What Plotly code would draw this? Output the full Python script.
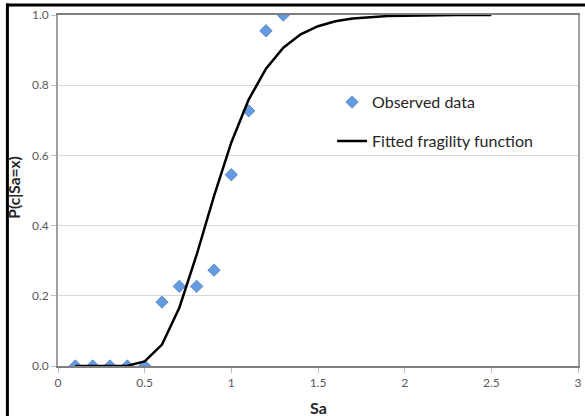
import plotly.graph_objects as go

# Observed data
obs_sa = [0.1, 0.2, 0.3, 0.4, 0.5, 0.6, 0.7, 0.8, 0.9, 1.0, 1.1, 1.2, 1.3]
obs_p = [0.0, 0.0, 0.0, 0.0, 0.0, 0.182, 0.227, 0.227, 0.273, 0.545, 0.727, 0.955, 1.0]

# Fitted fragility function
fit_sa = [0.1, 0.2, 0.3, 0.4, 0.5, 0.6, 0.7, 0.8, 0.9, 1.0, 1.1, 1.2, 1.3,
          1.4, 1.5, 1.6, 1.7, 1.8, 1.9, 2.0, 2.1, 2.2, 2.3, 2.4, 2.5]
fit_p = [0.0, 0.0, 0.0, 0.001, 0.013, 0.061, 0.166, 0.317, 0.484, 0.637, 0.759,
         0.847, 0.907, 0.945, 0.968, 0.982, 0.990, 0.994, 0.997, 0.998, 0.999,
         0.9995, 0.9997, 0.9998, 0.9999]

x_ticks = [0, 0.5, 1, 1.5, 2, 2.5, 3]
x_tick_labels = ["0", "0.5", "1", "1.5", "2", "2.5", "3"]
y_ticks = [0.0, 0.2, 0.4, 0.6, 0.8, 1.0]
y_tick_labels = ["0.0", "0.2", "0.4", "0.6", "0.8", "1.0"]

FONT = "Lato"

fig = go.Figure()
fig.add_trace(go.Scatter(
    x=obs_sa, y=obs_p, mode="markers", name="Observed data",
    legendgroup="a",
    marker=dict(symbol="diamond", size=9.5, color="#639ae0",
                line=dict(color="#4a7ec4", width=0.8)),
))
fig.add_trace(go.Scatter(
    x=fit_sa, y=fit_p, mode="lines", name="Fitted fragility function",
    legendgroup="b",
    line=dict(color="black", width=2.5),
))

fig.update_layout(
    width=585, height=416,
    margin=dict(l=58, r=3, t=15, b=50),
    paper_bgcolor="white", plot_bgcolor="white",
    font=dict(family=FONT, color="#595959", size=12),
    showlegend=True,
    legend=dict(x=0.527, y=0.80, xanchor="left", yanchor="top",
                bgcolor="rgba(0,0,0,0)", tracegroupgap=15,
                traceorder="grouped",
                font=dict(family=FONT, size=16, color="#262626")),
    xaxis=dict(range=[0, 3], tickvals=x_ticks, ticktext=x_tick_labels,
               showgrid=False, zeroline=False,
               showline=True, linecolor="#808080", linewidth=1.5, mirror=True,
               ticks="outside", ticklen=5, tickcolor="#bfbfbf",
               tickfont=dict(size=12, color="#595959")),
    yaxis=dict(range=[0, 1], tickvals=y_ticks, ticktext=y_tick_labels,
               showgrid=True, gridcolor="#d9d9d9", gridwidth=1.2, zeroline=False,
               showline=True, linecolor="#a0a0a0", linewidth=1.5, mirror=True,
               ticks="outside", ticklen=5, tickcolor="#bfbfbf",
               tickfont=dict(size=12, color="#595959")),
    annotations=[
        dict(text="<b>Sa</b>", xref="paper", yref="paper", x=0.5, y=-0.118,
             xanchor="center", yanchor="middle", showarrow=False,
             font=dict(family=FONT, size=16, color="#262626")),
        dict(text="<b>P(c|Sa=x)</b>", xref="paper", yref="paper", x=-0.084, y=0.509,
             xanchor="center", yanchor="middle", showarrow=False, textangle=-90,
             font=dict(family=FONT, size=15.5, color="#262626")),
    ],
    shapes=[
        dict(type="line", xref="paper", yref="paper", x0=-0.0995, x1=1.1,
             y0=1.0284, y1=1.0284, line=dict(color="black", width=3)),
        dict(type="line", xref="paper", yref="paper", x0=-0.0973, x1=-0.0973,
             y0=-0.2, y1=1.0327, line=dict(color="black", width=3)),
    ],
)

fig.write_html("out.html")
